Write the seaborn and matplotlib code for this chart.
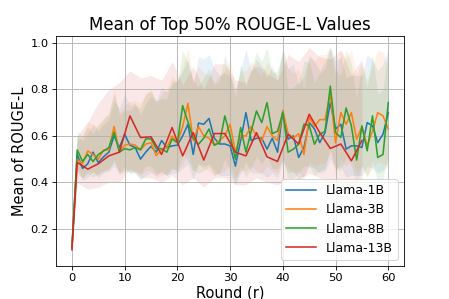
import pandas as pd
import seaborn as sns
import matplotlib
matplotlib.use("Agg")
import matplotlib.pyplot as plt

rounds = list(range(61))
red_rounds = [0] + list(range(1, 56, 2))

llama_1b = [0.12, 0.52, 0.46, 0.48, 0.53, 0.485, 0.51, 0.53, 0.60, 0.55,
            0.607, 0.56, 0.55, 0.50, 0.53, 0.555, 0.53, 0.58, 0.55, 0.557,
            0.56, 0.60, 0.65, 0.52, 0.655, 0.65, 0.675, 0.59, 0.565, 0.565,
            0.557, 0.47, 0.58, 0.70, 0.58, 0.59, 0.59, 0.543, 0.59, 0.53,
            0.707, 0.586, 0.60, 0.507, 0.55, 0.657, 0.63, 0.571, 0.614, 0.743,
            0.63, 0.65, 0.543, 0.557, 0.557, 0.55, 0.657, 0.643, 0.571, 0.607,
            0.70]
llama_1b_lo = [0.11, 0.45, 0.41, 0.42, 0.45, 0.42, 0.44, 0.45, 0.47, 0.44,
               0.47, 0.44, 0.44, 0.41, 0.43, 0.44, 0.43, 0.45, 0.43, 0.44,
               0.44, 0.46, 0.48, 0.41, 0.48, 0.47, 0.48, 0.45, 0.43, 0.43,
               0.43, 0.39, 0.44, 0.49, 0.44, 0.44, 0.44, 0.42, 0.44, 0.42,
               0.49, 0.44, 0.45, 0.41, 0.43, 0.47, 0.46, 0.44, 0.45, 0.50,
               0.46, 0.47, 0.42, 0.43, 0.43, 0.43, 0.47, 0.46, 0.44, 0.45,
               0.49]
llama_1b_hi = [0.13, 0.60, 0.58, 0.61, 0.65, 0.62, 0.65, 0.67, 0.75, 0.72,
               0.78, 0.73, 0.74, 0.69, 0.74, 0.77, 0.75, 0.81, 0.79, 0.82,
               0.84, 0.88, 0.93, 0.82, 0.94, 0.93, 0.95, 0.89, 0.86, 0.87,
               0.86, 0.79, 0.89, 0.97, 0.88, 0.90, 0.89, 0.85, 0.90, 0.84,
               0.97, 0.89, 0.91, 0.82, 0.86, 0.94, 0.92, 0.88, 0.92, 0.98,
               0.92, 0.94, 0.85, 0.86, 0.86, 0.86, 0.95, 0.93, 0.88, 0.91,
               0.97]

llama_3b = [0.12, 0.50, 0.48, 0.535, 0.52, 0.50, 0.54, 0.54, 0.64, 0.53,
            0.56, 0.565, 0.56, 0.54, 0.565, 0.57, 0.515, 0.54, 0.55, 0.60,
            0.57, 0.64, 0.74, 0.58, 0.64, 0.60, 0.59, 0.56, 0.58, 0.60,
            0.65, 0.53, 0.60, 0.60, 0.64, 0.60, 0.58, 0.64, 0.60, 0.58,
            0.707, 0.61, 0.59, 0.61, 0.52, 0.68, 0.64, 0.67, 0.67, 0.78,
            0.57, 0.70, 0.65, 0.70, 0.586, 0.64, 0.557, 0.62, 0.70, 0.686,
            0.63]
llama_3b_lo = [0.11, 0.44, 0.42, 0.45, 0.44, 0.43, 0.45, 0.45, 0.50, 0.43,
               0.45, 0.45, 0.45, 0.43, 0.45, 0.45, 0.42, 0.43, 0.44, 0.46,
               0.45, 0.48, 0.53, 0.45, 0.48, 0.46, 0.45, 0.43, 0.44, 0.45,
               0.48, 0.42, 0.45, 0.45, 0.47, 0.45, 0.44, 0.47, 0.45, 0.44,
               0.50, 0.46, 0.44, 0.45, 0.41, 0.49, 0.47, 0.48, 0.48, 0.53,
               0.43, 0.50, 0.47, 0.50, 0.44, 0.47, 0.43, 0.46, 0.49, 0.48,
               0.46]
llama_3b_hi = [0.13, 0.58, 0.60, 0.66, 0.65, 0.64, 0.68, 0.69, 0.80, 0.70,
               0.73, 0.75, 0.75, 0.74, 0.78, 0.80, 0.74, 0.78, 0.80, 0.86,
               0.83, 0.90, 0.98, 0.84, 0.90, 0.87, 0.86, 0.83, 0.86, 0.88,
               0.93, 0.80, 0.88, 0.88, 0.92, 0.88, 0.86, 0.92, 0.88, 0.86,
               0.97, 0.89, 0.87, 0.89, 0.80, 0.95, 0.92, 0.95, 0.95, 0.98,
               0.85, 0.97, 0.93, 0.97, 0.86, 0.92, 0.84, 0.90, 0.97, 0.96,
               0.90]

llama_8b = [0.12, 0.54, 0.49, 0.52, 0.49, 0.52, 0.535, 0.55, 0.615, 0.53,
            0.545, 0.54, 0.55, 0.54, 0.587, 0.587, 0.545, 0.545, 0.53, 0.587,
            0.57, 0.73, 0.66, 0.59, 0.564, 0.59, 0.63, 0.56, 0.57, 0.686,
            0.60, 0.50, 0.636, 0.53, 0.62, 0.707, 0.657, 0.743, 0.61, 0.62,
            0.70, 0.53, 0.543, 0.564, 0.65, 0.645, 0.564, 0.607, 0.62, 0.814,
            0.614, 0.593, 0.72, 0.643, 0.496, 0.643, 0.536, 0.686, 0.507, 0.52,
            0.743]
llama_8b_lo = [0.11, 0.46, 0.42, 0.44, 0.42, 0.44, 0.45, 0.46, 0.49, 0.44,
               0.45, 0.44, 0.45, 0.44, 0.47, 0.47, 0.44, 0.44, 0.43, 0.46,
               0.45, 0.53, 0.49, 0.45, 0.44, 0.45, 0.47, 0.43, 0.44, 0.50,
               0.45, 0.40, 0.47, 0.42, 0.46, 0.51, 0.48, 0.52, 0.46, 0.46,
               0.50, 0.41, 0.42, 0.44, 0.47, 0.47, 0.43, 0.45, 0.46, 0.55,
               0.46, 0.45, 0.51, 0.47, 0.39, 0.47, 0.42, 0.49, 0.40, 0.41,
               0.52]
llama_8b_hi = [0.13, 0.62, 0.60, 0.64, 0.61, 0.65, 0.67, 0.70, 0.78, 0.69,
               0.71, 0.71, 0.73, 0.72, 0.78, 0.79, 0.75, 0.76, 0.76, 0.84,
               0.83, 0.97, 0.91, 0.84, 0.81, 0.85, 0.89, 0.82, 0.84, 0.95,
               0.87, 0.77, 0.91, 0.81, 0.89, 0.96, 0.92, 0.98, 0.87, 0.88,
               0.97, 0.80, 0.81, 0.83, 0.92, 0.92, 0.83, 0.87, 0.89, 0.98,
               0.88, 0.86, 0.97, 0.91, 0.76, 0.91, 0.81, 0.95, 0.78, 0.80,
               0.98]

llama_13b = [0.11, 0.486, 0.457, 0.48, 0.514, 0.53, 0.686, 0.593, 0.596, 0.52,
             0.636, 0.514, 0.614, 0.496, 0.61, 0.61, 0.53, 0.514, 0.614, 0.51,
             0.49, 0.607, 0.565, 0.693, 0.614, 0.546, 0.565, 0.493, 0.58]
llama_13b_lo = [0.10, 0.40, 0.37, 0.38, 0.40, 0.40, 0.46, 0.42, 0.42, 0.40,
                0.43, 0.39, 0.42, 0.38, 0.42, 0.42, 0.39, 0.39, 0.42, 0.40,
                0.39, 0.42, 0.41, 0.44, 0.42, 0.40, 0.40, 0.38, 0.41]
llama_13b_hi = [0.13, 0.60, 0.66, 0.74, 0.80, 0.83, 0.88, 0.85, 0.86, 0.84,
                0.92, 0.82, 0.90, 0.80, 0.91, 0.91, 0.84, 0.83, 0.93, 0.87,
                0.84, 0.95, 0.92, 0.98, 0.94, 0.93, 0.97, 0.86, 0.93]

models = ["Llama-1B", "Llama-3B", "Llama-8B", "Llama-13B"]
colors = ["#1f77b4", "#ff7f0e", "#2ca02c", "#d62728"]

series = {
    "Llama-1B": (rounds, llama_1b, llama_1b_lo, llama_1b_hi),
    "Llama-3B": (rounds, llama_3b, llama_3b_lo, llama_3b_hi),
    "Llama-8B": (rounds, llama_8b, llama_8b_lo, llama_8b_hi),
    "Llama-13B": (red_rounds, llama_13b, llama_13b_lo, llama_13b_hi),
}

frames = []
for name in models:
    x, y, lo, hi = series[name]
    frames.append(pd.DataFrame({"round": x, "rouge": y, "lo": lo, "hi": hi, "model": name}))
df = pd.concat(frames, ignore_index=True)

fig, ax = plt.subplots(figsize=(449 / 75, 299 / 75), dpi=75)

# shaded spread of each model
for name, color in zip(models, colors):
    part = df[df["model"] == name]
    ax.fill_between(part["round"], part["lo"], part["hi"], color=color, alpha=0.1, linewidth=0)

sns.lineplot(data=df, x="round", y="rouge", hue="model", hue_order=models,
             palette=colors, errorbar=None, linewidth=1.5, ax=ax)

ax.set_ylim(0.04, 1.03)
ax.grid(True)
ax.set_title("Mean of Top 50% ROUGE-L Values", fontsize=16)
ax.set_xlabel("Round (r)", fontsize=14, labelpad=2)
ax.set_ylabel("Mean of ROUGE-L", fontsize=14)
ax.tick_params(labelsize=11)
handles, labels = ax.get_legend_handles_labels()
ax.legend(handles, labels, loc="lower right", fontsize=12, handlelength=2.4)

fig.savefig("out.png", dpi=75)
